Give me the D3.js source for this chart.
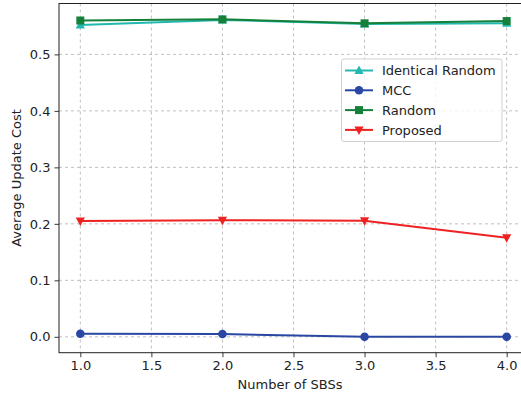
<!DOCTYPE html>
<html><head><meta charset="utf-8">
<script src="https://cdn.jsdelivr.net/npm/d3@7"></script>
<style>body{margin:0;background:#fff}svg{display:block}</style>
</head><body><svg id="c" width="521" height="398"></svg>
<script>
const xValues = [1, 2, 3, 4];
const identicalRandom = [0.552, 0.561, 0.554, 0.555];
const mcc = [0.0055, 0.005, 0.0, 0.0];
const random = [0.560, 0.562, 0.555, 0.559];
const proposed = [0.205, 0.2065, 0.2055, 0.1755];
const xTicks = [1.0, 1.5, 2.0, 2.5, 3.0, 3.5, 4.0];
const yTicks = [0.0, 0.1, 0.2, 0.3, 0.4, 0.5];
const seriesNames = ["Identical Random", "MCC", "Random", "Proposed"];
const seriesColors = ["#22b8b0", "#2b47a4", "#15803a", "#ee2222"];
const seriesMarkers = ["triUp", "circle", "square", "triDown"];
const seriesData = [identicalRandom, mcc, random, proposed];

const svg = d3.select("#c");
const L = 59, R = 528, T = 3.5, B = 352.7;
const x = d3.scaleLinear().domain([0.85, 4.15]).range([L, R]);
const y = d3.scaleLinear().domain([-0.0281, 0.5901]).range([B, T]);
const font = "DejaVu Sans, sans-serif";

// grid
const g = svg.append("g");
g.selectAll(".gx").data(xTicks).enter().append("line")
  .attr("x1", d => x(d)).attr("x2", d => x(d)).attr("y1", T).attr("y2", B)
  .attr("stroke", "#b0b0b0").attr("stroke-width", 0.8).attr("stroke-dasharray", "3,3");
g.selectAll(".gy").data(yTicks).enter().append("line")
  .attr("x1", L).attr("x2", R).attr("y1", d => y(d)).attr("y2", d => y(d))
  .attr("stroke", "#b0b0b0").attr("stroke-width", 0.8).attr("stroke-dasharray", "3,3");

// axes
const xa = svg.append("g").attr("transform", `translate(0,${B})`)
  .call(d3.axisBottom(x).tickValues(xTicks).tickFormat(d3.format(".1f")).tickSize(4.5).tickPadding(4));
const ya = svg.append("g").attr("transform", `translate(${L},0)`)
  .call(d3.axisLeft(y).tickValues(yTicks).tickFormat(d3.format(".1f")).tickSize(4.5).tickPadding(4));
[xa, ya].forEach(a => {
  a.select(".domain").remove();
  a.selectAll("text").attr("font-family", font).attr("font-size", 13).attr("fill", "#222");
  a.selectAll("line").attr("stroke", "#222").attr("stroke-width", 0.9);
});
// spines
svg.append("rect").attr("x", L).attr("y", T).attr("width", R - L).attr("height", B - T)
  .attr("fill", "none").attr("stroke", "#222").attr("stroke-width", 1);

// lines
const line = d3.line().x((d, i) => x(xValues[i])).y(d => y(d));
function marker(sel, type, color, cx, cy) {
  const s = 4;
  if (type === "circle") sel.append("circle").attr("cx", cx).attr("cy", cy).attr("r", 4.3).attr("fill", color);
  else if (type === "square") sel.append("rect").attr("x", cx - 4).attr("y", cy - 4).attr("width", 8).attr("height", 8).attr("fill", color);
  else if (type === "triUp") sel.append("path").attr("d", `M${cx},${cy - 5}L${cx + 4.6},${cy + 3.5}L${cx - 4.6},${cy + 3.5}Z`).attr("fill", color);
  else sel.append("path").attr("d", `M${cx},${cy + 5}L${cx + 4.6},${cy - 3.5}L${cx - 4.6},${cy - 3.5}Z`).attr("fill", color);
}
seriesData.forEach((data, k) => {
  const gg = svg.append("g");
  gg.append("path").datum(data).attr("d", line).attr("fill", "none")
    .attr("stroke", seriesColors[k]).attr("stroke-width", 2);
  data.forEach((d, i) => marker(gg, seriesMarkers[k], seriesColors[k], x(xValues[i]), y(d)));
});

// legend
const lg = svg.append("g");
lg.append("rect").attr("x", 341.5).attr("y", 59).attr("width", 160.5).attr("height", 82.5).attr("rx", 2.5)
  .attr("fill", "#fff").attr("fill-opacity", 0.8).attr("stroke", "#d0d0d0").attr("stroke-width", 1);
seriesNames.forEach((n, k) => {
  const yy = 70.5 + k * 19.8;
  lg.append("line").attr("x1", 345).attr("x2", 373).attr("y1", yy).attr("y2", yy)
    .attr("stroke", seriesColors[k]).attr("stroke-width", 2);
  marker(lg, seriesMarkers[k], seriesColors[k], 359, yy);
  lg.append("text").attr("x", 382).attr("y", yy + 4.6).text(n)
    .attr("font-family", font).attr("font-size", 13).attr("fill", "#222");
});

// axis labels
svg.append("text").attr("x", 290).attr("y", 389).attr("text-anchor", "middle").text("Number of SBSs")
  .attr("font-family", font).attr("font-size", 13).attr("fill", "#222");
svg.append("text").attr("transform", "translate(21,178) rotate(-90)").attr("text-anchor", "middle").text("Average Update Cost")
  .attr("font-family", font).attr("font-size", 13).attr("fill", "#222");
</script></body></html>
